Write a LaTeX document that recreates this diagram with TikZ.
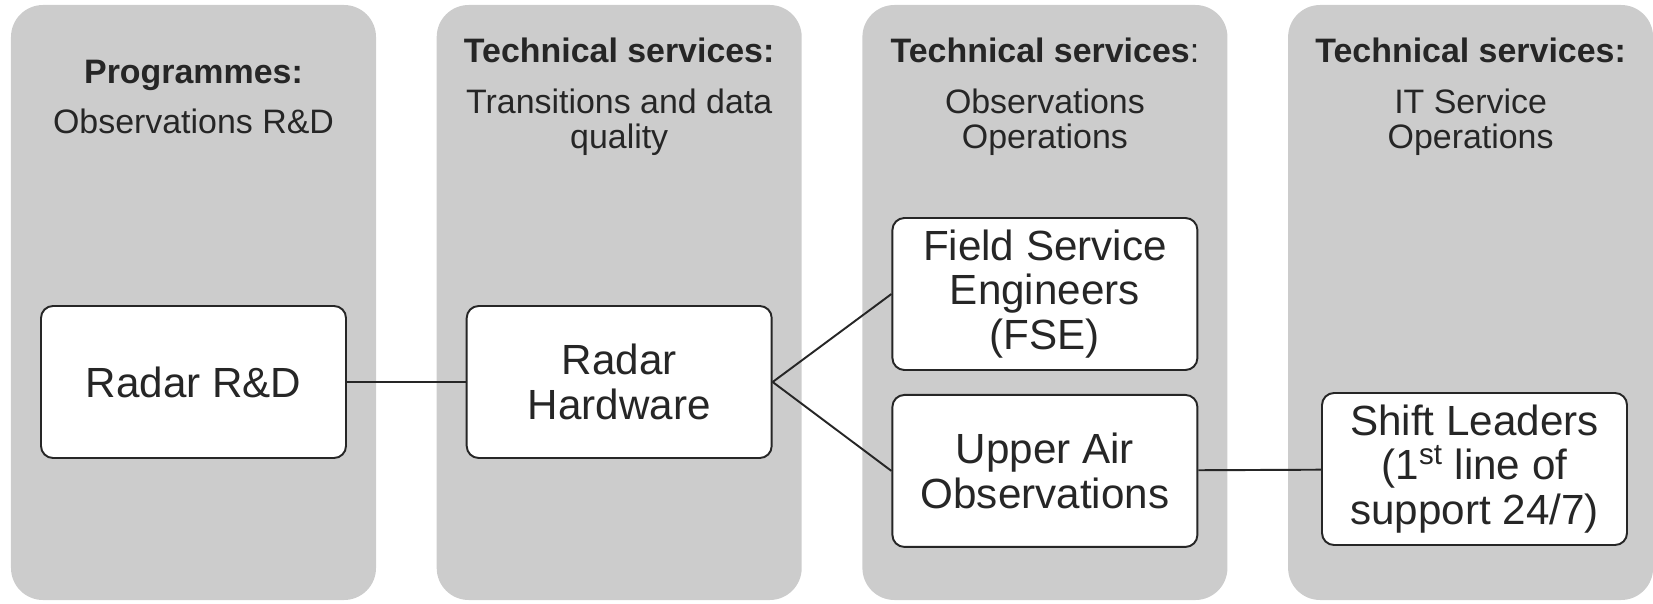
\documentclass[tikz,border=0pt]{standalone}
\usepackage{fontspec}
\setmainfont{Liberation Sans}
\usetikzlibrary{positioning}

\definecolor{lanegray}{HTML}{CCCCCC}
\definecolor{inkgray}{HTML}{262626}

\begin{document}
\begin{tikzpicture}[
    lane/.style={fill=lanegray, rounded corners=0.64cm, minimum width=7.3cm, minimum height=11.9cm, inner sep=0pt},
    head/.style={align=center, text=inkgray, font=\fontsize{19.3}{20}\selectfont},
    unit/.style={draw=inkgray, line width=1.1pt, fill=white, rounded corners=0.24cm, align=center, text=inkgray, minimum width=6.1cm, minimum height=3.04cm, inner sep=2pt, font=\fontsize{24}{25.5}\selectfont},
    link/.style={draw=inkgray, line width=1.1pt}
]
  \useasboundingbox (0,0) rectangle (33.06,12.06);

  \node[lane] (lane1) at (3.87,6.01) {};
  \node[lane] (lane2) at (12.384,6.01) {};
  \node[lane] (lane3) at (20.898,6.01) {};
  \node[lane] (lane4) at (29.412,6.01) {};

  \node[head] (head1) at (3.87,10.12) {\textbf{Programmes:}\\[9pt]Observations R\&D};
  \node[head] (head2) at (12.384,10.12) {\textbf{Technical services:}\\[9pt]Transitions and data\\quality};
  \node[head] (head3) at (20.898,10.12) {\textbf{Technical services}:\\[9pt]Observations\\Operations};
  \node[head] (head4) at (29.412,10.12) {\textbf{Technical services:}\\[9pt]IT Service\\Operations};

  \node[unit] (rd) at (3.87,4.42) {Radar R\&D};
  \node[unit] (hw) at (12.384,4.42) {Radar\\Hardware};
  \node[unit] (fse) at (20.898,6.18) {Field Service\\Engineers\\(FSE)};
  \node[unit, below=0.46cm of fse] (uao) {Upper Air\\Observations};
  \node[unit] (shift) at (29.49,2.68) {Shift Leaders\\(1\textsuperscript{st} line of\\support 24/7)};

  \draw[link] (rd) -- (hw);
  \draw[link] (hw.east) -- (fse.west);
  \draw[link] (hw.east) -- (uao.west);
  \draw[link] (uao) -- (shift);
\end{tikzpicture}
\end{document}
